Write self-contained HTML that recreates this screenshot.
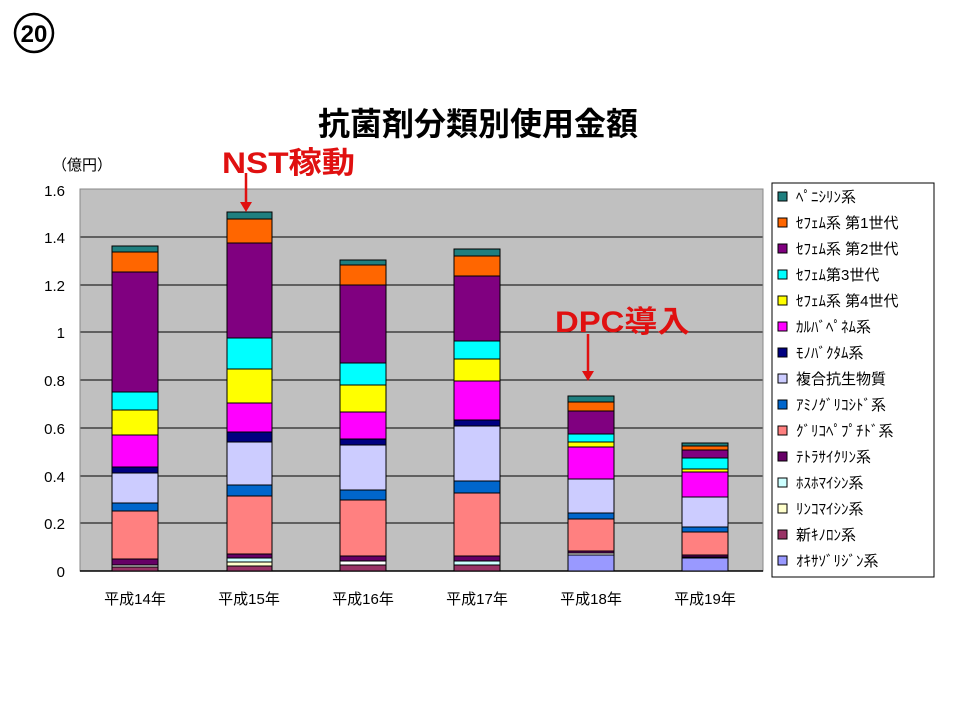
<!DOCTYPE html>
<html><head><meta charset="utf-8"><style>
body{margin:0;background:#fff;width:960px;height:720px;overflow:hidden}
svg{display:block}
text{font-family:"Liberation Sans","Noto Sans CJK JP",sans-serif}
</style></head><body>
<svg width="960" height="720" xmlns="http://www.w3.org/2000/svg">
<circle cx="34" cy="33" r="19" fill="none" stroke="#000" stroke-width="2.5"/>
<text x="34" y="42" font-size="24" font-weight="bold" text-anchor="middle">20</text>
<text x="478" y="135" font-size="32" font-weight="bold" text-anchor="middle">抗菌剤分類別使用金額</text>
<text x="52" y="170" font-size="15">（億円）</text>
<rect x="80" y="189" width="683" height="382" fill="#c0c0c0"/>
<g stroke="#000" stroke-width="1">
<line x1="80" y1="237" x2="763" y2="237"/><line x1="80" y1="285" x2="763" y2="285"/>
<line x1="80" y1="332" x2="763" y2="332"/><line x1="80" y1="380" x2="763" y2="380"/>
<line x1="80" y1="428" x2="763" y2="428"/><line x1="80" y1="476" x2="763" y2="476"/>
<line x1="80" y1="523" x2="763" y2="523"/>
</g>
<rect x="80" y="189" width="683" height="382" fill="none" stroke="#888" stroke-width="1"/>
<line x1="80" y1="571" x2="763" y2="571" stroke="#000" stroke-width="1.5"/>
<g font-size="15" text-anchor="end">
<text x="65" y="196">1.6</text><text x="65" y="243">1.4</text><text x="65" y="291">1.2</text>
<text x="65" y="338">1</text><text x="65" y="386">0.8</text><text x="65" y="434">0.6</text>
<text x="65" y="482">0.4</text><text x="65" y="529">0.2</text><text x="65" y="577">0</text>
</g>
<g font-size="15" text-anchor="middle">
<text x="135" y="604">平成14年</text><text x="249" y="604">平成15年</text><text x="363" y="604">平成16年</text>
<text x="477" y="604">平成17年</text><text x="591" y="604">平成18年</text><text x="705" y="604">平成19年</text>
</g>
<g stroke="#000" stroke-width="1">
<rect x="112" y="246" width="46" height="6" fill="#1f7f7f"/>
<rect x="112" y="252" width="46" height="20" fill="#ff6600"/>
<rect x="112" y="272" width="46" height="120" fill="#800080"/>
<rect x="112" y="392" width="46" height="18" fill="#00ffff"/>
<rect x="112" y="410" width="46" height="25" fill="#ffff00"/>
<rect x="112" y="435" width="46" height="32" fill="#ff00ff"/>
<rect x="112" y="467" width="46" height="6" fill="#000080"/>
<rect x="112" y="473" width="46" height="30" fill="#ccccff"/>
<rect x="112" y="503" width="46" height="8" fill="#0066cc"/>
<rect x="112" y="511" width="46" height="48" fill="#ff8080"/>
<rect x="112" y="559" width="46" height="6" fill="#660066"/>
<rect x="112" y="565" width="46" height="2" fill="#ffffff"/>
<rect x="112" y="567" width="46" height="4" fill="#993366"/>
<rect x="227" y="212" width="45" height="7" fill="#1f7f7f"/>
<rect x="227" y="219" width="45" height="24" fill="#ff6600"/>
<rect x="227" y="243" width="45" height="95" fill="#800080"/>
<rect x="227" y="338" width="45" height="31" fill="#00ffff"/>
<rect x="227" y="369" width="45" height="34" fill="#ffff00"/>
<rect x="227" y="403" width="45" height="29" fill="#ff00ff"/>
<rect x="227" y="432" width="45" height="10" fill="#000080"/>
<rect x="227" y="442" width="45" height="43" fill="#ccccff"/>
<rect x="227" y="485" width="45" height="11" fill="#0066cc"/>
<rect x="227" y="496" width="45" height="58" fill="#ff8080"/>
<rect x="227" y="554" width="45" height="4" fill="#660066"/>
<rect x="227" y="558" width="45" height="4" fill="#ccffff"/>
<rect x="227" y="562" width="45" height="4" fill="#ffffcc"/>
<rect x="227" y="566" width="45" height="5" fill="#993366"/>
<rect x="340" y="260" width="46" height="5" fill="#1f7f7f"/>
<rect x="340" y="265" width="46" height="20" fill="#ff6600"/>
<rect x="340" y="285" width="46" height="78" fill="#800080"/>
<rect x="340" y="363" width="46" height="22" fill="#00ffff"/>
<rect x="340" y="385" width="46" height="27" fill="#ffff00"/>
<rect x="340" y="412" width="46" height="27" fill="#ff00ff"/>
<rect x="340" y="439" width="46" height="6" fill="#000080"/>
<rect x="340" y="445" width="46" height="45" fill="#ccccff"/>
<rect x="340" y="490" width="46" height="10" fill="#0066cc"/>
<rect x="340" y="500" width="46" height="56" fill="#ff8080"/>
<rect x="340" y="556" width="46" height="5" fill="#660066"/>
<rect x="340" y="561" width="46" height="4" fill="#ffffff"/>
<rect x="340" y="565" width="46" height="6" fill="#993366"/>
<rect x="454" y="249" width="46" height="7" fill="#1f7f7f"/>
<rect x="454" y="256" width="46" height="20" fill="#ff6600"/>
<rect x="454" y="276" width="46" height="65" fill="#800080"/>
<rect x="454" y="341" width="46" height="18" fill="#00ffff"/>
<rect x="454" y="359" width="46" height="22" fill="#ffff00"/>
<rect x="454" y="381" width="46" height="39" fill="#ff00ff"/>
<rect x="454" y="420" width="46" height="6" fill="#000080"/>
<rect x="454" y="426" width="46" height="55" fill="#ccccff"/>
<rect x="454" y="481" width="46" height="12" fill="#0066cc"/>
<rect x="454" y="493" width="46" height="63" fill="#ff8080"/>
<rect x="454" y="556" width="46" height="5" fill="#660066"/>
<rect x="454" y="561" width="46" height="4" fill="#ccffff"/>
<rect x="454" y="565" width="46" height="6" fill="#993366"/>
<rect x="568" y="396" width="46" height="6" fill="#1f7f7f"/>
<rect x="568" y="402" width="46" height="9" fill="#ff6600"/>
<rect x="568" y="411" width="46" height="23" fill="#800080"/>
<rect x="568" y="434" width="46" height="8" fill="#00ffff"/>
<rect x="568" y="442" width="46" height="5" fill="#ffff00"/>
<rect x="568" y="447" width="46" height="32" fill="#ff00ff"/>
<rect x="568" y="479" width="46" height="34" fill="#ccccff"/>
<rect x="568" y="513" width="46" height="6" fill="#0066cc"/>
<rect x="568" y="519" width="46" height="32" fill="#ff8080"/>
<rect x="568" y="551" width="46" height="2" fill="#660066"/>
<rect x="568" y="553" width="46" height="2" fill="#ffffff"/>
<rect x="568" y="555" width="46" height="16" fill="#9999ff"/>
<rect x="682" y="443" width="46" height="3" fill="#1f7f7f"/>
<rect x="682" y="446" width="46" height="4" fill="#ff6600"/>
<rect x="682" y="450" width="46" height="8" fill="#800080"/>
<rect x="682" y="458" width="46" height="11" fill="#00ffff"/>
<rect x="682" y="469" width="46" height="3" fill="#ffff00"/>
<rect x="682" y="472" width="46" height="25" fill="#ff00ff"/>
<rect x="682" y="497" width="46" height="30" fill="#ccccff"/>
<rect x="682" y="527" width="46" height="5" fill="#0066cc"/>
<rect x="682" y="532" width="46" height="23" fill="#ff8080"/>
<rect x="682" y="555" width="46" height="2" fill="#660066"/>
<rect x="682" y="557" width="46" height="1" fill="#ffffff"/>
<rect x="682" y="558" width="46" height="13" fill="#9999ff"/>
</g>
<text x="222" y="173" font-size="30" font-weight="bold" fill="#e01010" textLength="133" lengthAdjust="spacingAndGlyphs">NST稼動</text>
<line x1="246" y1="173" x2="246" y2="204" stroke="#e01010" stroke-width="2.5"/>
<polygon points="240,202 252,202 246,212" fill="#e01010"/>
<text x="555" y="332" font-size="30" font-weight="bold" fill="#e01010" textLength="135" lengthAdjust="spacingAndGlyphs">DPC導入</text>
<line x1="588" y1="334" x2="588" y2="373" stroke="#e01010" stroke-width="2.5"/>
<polygon points="582,371 594,371 588,381" fill="#e01010"/>
<rect x="772" y="183" width="162" height="394" fill="#fff" stroke="#000" stroke-width="1"/>
<g stroke="#000" stroke-width="1">
<rect x="778" y="192" width="9" height="9" fill="#1f7f7f"/>
<rect x="778" y="218" width="9" height="9" fill="#ff6600"/>
<rect x="778" y="244" width="9" height="9" fill="#800080"/>
<rect x="778" y="270" width="9" height="9" fill="#00ffff"/>
<rect x="778" y="296" width="9" height="9" fill="#ffff00"/>
<rect x="778" y="322" width="9" height="9" fill="#ff00ff"/>
<rect x="778" y="348" width="9" height="9" fill="#000080"/>
<rect x="778" y="374" width="9" height="9" fill="#ccccff"/>
<rect x="778" y="400" width="9" height="9" fill="#0066cc"/>
<rect x="778" y="426" width="9" height="9" fill="#ff8080"/>
<rect x="778" y="452" width="9" height="9" fill="#660066"/>
<rect x="778" y="478" width="9" height="9" fill="#ccffff"/>
<rect x="778" y="504" width="9" height="9" fill="#ffffcc"/>
<rect x="778" y="530" width="9" height="9" fill="#993366"/>
<rect x="778" y="556" width="9" height="9" fill="#9999ff"/>
</g>
<g font-size="15">
<text x="796" y="202">ﾍﾟﾆｼﾘﾝ系</text>
<text x="796" y="228">ｾﾌｪﾑ系 第1世代</text>
<text x="796" y="254">ｾﾌｪﾑ系 第2世代</text>
<text x="796" y="280">ｾﾌｪﾑ第3世代</text>
<text x="796" y="306">ｾﾌｪﾑ系 第4世代</text>
<text x="796" y="332">ｶﾙﾊﾞﾍﾟﾈﾑ系</text>
<text x="796" y="358">ﾓﾉﾊﾞｸﾀﾑ系</text>
<text x="796" y="384">複合抗生物質</text>
<text x="796" y="410">ｱﾐﾉｸﾞﾘｺｼﾄﾞ系</text>
<text x="796" y="436">ｸﾞﾘｺﾍﾟﾌﾟﾁﾄﾞ系</text>
<text x="796" y="462">ﾃﾄﾗｻｲｸﾘﾝ系</text>
<text x="796" y="488">ﾎｽﾎﾏｲｼﾝ系</text>
<text x="796" y="514">ﾘﾝｺﾏｲｼﾝ系</text>
<text x="796" y="540">新ｷﾉﾛﾝ系</text>
<text x="796" y="566">ｵｷｻｿﾞﾘｼﾞﾝ系</text>
</g>
</svg>
</body></html>
